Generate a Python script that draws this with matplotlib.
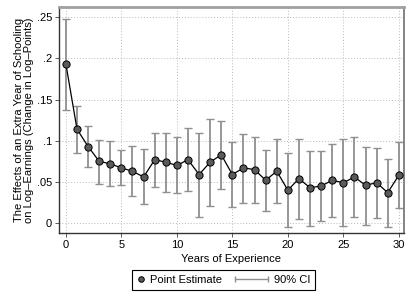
import numpy as np
import matplotlib
matplotlib.use("Agg")
import matplotlib.pyplot as plt
from matplotlib.lines import Line2D
from matplotlib.legend_handler import HandlerLine2D

plt.rcParams['font.family'] = ['Liberation Sans', 'DejaVu Sans']

years = list(range(0, 31))
estimate = [0.193, 0.114, 0.093, 0.075, 0.072, 0.067, 0.063, 0.056, 0.077, 0.074,
            0.070, 0.077, 0.059, 0.074, 0.083, 0.059, 0.067, 0.065, 0.052, 0.063,
            0.040, 0.054, 0.043, 0.045, 0.052, 0.049, 0.056, 0.046, 0.049, 0.037,
            0.058]
ci_upper = [0.248, 0.142, 0.118, 0.101, 0.100, 0.089, 0.094, 0.090, 0.110, 0.109,
            0.105, 0.115, 0.110, 0.126, 0.124, 0.099, 0.108, 0.104, 0.089, 0.102,
            0.085, 0.102, 0.088, 0.087, 0.096, 0.102, 0.105, 0.093, 0.091, 0.078,
            0.098]
ci_lower = [0.137, 0.085, 0.068, 0.048, 0.045, 0.046, 0.033, 0.023, 0.044, 0.038,
            0.036, 0.039, 0.008, 0.021, 0.041, 0.020, 0.025, 0.025, 0.015, 0.024,
            -0.0045, 0.005, -0.003, 0.003, 0.008, -0.004, 0.007, -0.002, 0.006, -0.005,
            0.018]
xticks = [0, 5, 10, 15, 20, 25, 30]
yticks = [0, 0.05, 0.1, 0.15, 0.2, 0.25]
ytick_labels = ['0', '.05', '.1', '.15', '.2', '.25']

est = np.array(estimate)
err = np.vstack([est - np.array(ci_lower), np.array(ci_upper) - est])


class HandlerCI(HandlerLine2D):
    # line stretched to the left of the handle box, caps at both ends
    def get_xdata(self, legend, xdescent, ydescent, width, height, fontsize):
        x0 = -xdescent - 18
        x1 = -xdescent + width
        return np.array([x0, x1]), np.array([x0, x1])


fig = plt.figure(figsize=(4.15, 3.02), dpi=100)
ax = fig.add_axes([0.142, 0.228, 0.831, 0.749])

ci_color = '#8f8f8f'
ax.errorbar(years, est, yerr=err, fmt='none', ecolor=ci_color, elinewidth=1.3,
            capsize=2.6, capthick=1.0, zorder=2)
ax.plot(years, est, color='black', lw=0.9, marker='o', ms=5.2,
        mfc='#5a5a5a', mec='black', mew=0.7, zorder=3)

ax.set_xlim(-0.63, 30.45)
ax.set_ylim(-0.0122, 0.2625)
ax.set_xticks(xticks)
ax.set_yticks(yticks)
ax.set_yticklabels(ytick_labels)
ax.tick_params(labelsize=8, length=3, width=0.6, color='#404040', pad=2)
ax.grid(True, linestyle=(0, (1, 2)), color='#b8b8b8', lw=0.7)
ax.set_axisbelow(True)

for side in ['left', 'bottom']:
    ax.spines[side].set_color('#333333')
    ax.spines[side].set_linewidth(1.0)
ax.spines['top'].set_color('#a0a0a0')
ax.spines['top'].set_linewidth(2.0)
ax.spines['right'].set_color('#707070')
ax.spines['right'].set_linewidth(1.2)

ax.set_xlabel('Years of Experience', fontsize=8, labelpad=3)
ax.set_ylabel('The Effects of an Extra Year of Schooling\non Log\u2013Earnings (Change in Log\u2013Points)',
              fontsize=8, labelpad=2, linespacing=1.0)

h_point = Line2D([], [], color='none', marker='o', ms=4, mfc='#5a5a5a', mec='black', mew=0.7)
h_ci = Line2D([], [], color=ci_color, lw=1.0, marker='|', ms=4, mec=ci_color)
leg = fig.legend([h_point, h_ci], ['Point Estimate', '90% CI'], ncol=2,
                 loc='center', bbox_to_anchor=(0.538, 0.074), fontsize=8,
                 frameon=True, fancybox=False, edgecolor='black', framealpha=1,
                 handlelength=0.72, handletextpad=0.5, columnspacing=3.4,
                 borderpad=0.45,
                 handler_map={h_point: HandlerLine2D(numpoints=1),
                              h_ci: HandlerCI(numpoints=2)})
leg.get_frame().set_linewidth(0.8)
fig.savefig('out.png', dpi=100)
